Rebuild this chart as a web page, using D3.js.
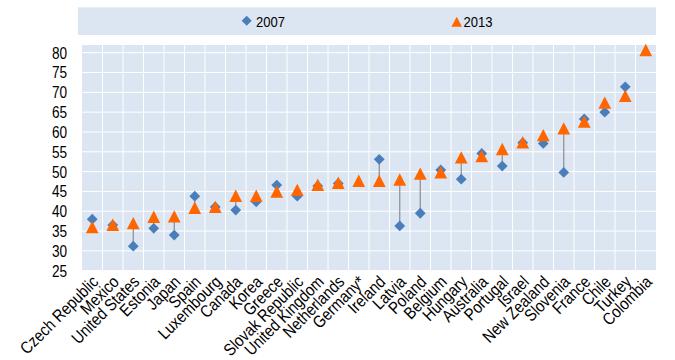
<!DOCTYPE html>
<html>
<head>
<meta charset="utf-8">
<script src="https://cdn.jsdelivr.net/npm/d3@7"></script>
<style>
  html, body { margin: 0; padding: 0; background: #ffffff; }
  svg { display: block; }
  text { font-family: "Liberation Sans", Arial, sans-serif; fill: #000; }
</style>
</head>
<body>
<svg id="chart" width="675" height="360"></svg>
<script>
const categories = ["Czech Republic", "Mexico", "United States", "Estonia", "Japan", "Spain", "Luxembourg", "Canada", "Korea", "Greece", "Slovak Republic", "United Kingdom", "Netherlands", "Germany*", "Ireland", "Latvia", "Poland", "Belgium", "Hungary", "Australia", "Portugal", "Israel", "New Zealand", "Slovenia", "France", "Chile", "Turkey", "Colombia"];
const values2007 = [38.0, 36.5, 31.2, 35.7, 34.0, 43.8, 41.1, 40.3, 42.4, 46.6, 43.8, 46.4, 47.0, null, 53.1, 36.3, 39.5, 50.4, 48.1, 54.6, 51.4, 57.3, 57.1, 49.8, 63.3, 65.0, 71.4, null];
const values2013 = [36.0, 36.6, 37.0, 38.6, 38.7, 40.9, 41.1, 43.9, 43.9, 45.0, 45.4, 46.7, 47.2, 47.7, 47.7, 48.0, 49.5, 49.8, 53.6, 53.9, 55.7, 57.4, 59.2, 60.9, 62.6, 67.4, 69.1, 80.7];
const yTicks = [25, 30, 35, 40, 45, 50, 55, 60, 65, 70, 75, 80];
const seriesNames = ["2007", "2013"];

const svg = d3.select("#chart");
const plot = { left: 82, right: 656, top: 45, bottom: 270.7 };
const colors = { bg: "#dce6f2", diamond: "#4a7ebb", triangle: "#ff6600", link: "#8c8c8c" };

const x = d3.scaleBand().domain(categories).range([plot.left, plot.right]).padding(0);
const y = d3.scaleLinear().domain([25, 80]).range([plot.bottom, 52.7]);

// legend box
svg.append("rect").attr("x", 78).attr("y", 7.3).attr("width", 656 - 78).attr("height", 35 - 7.3).attr("fill", colors.bg);

// plot background
svg.append("rect").attr("x", plot.left).attr("y", plot.top).attr("width", plot.right - plot.left).attr("height", plot.bottom - plot.top).attr("fill", colors.bg);

// horizontal gridlines
svg.append("g").selectAll("line").data(yTicks).join("line")
  .attr("x1", plot.left).attr("x2", plot.right)
  .attr("y1", d => y(d)).attr("y2", d => y(d))
  .attr("stroke", "#ffffff").attr("stroke-width", 1);

// vertical gridlines at category boundaries
svg.append("g").selectAll("line").data(categories.slice(1)).join("line")
  .attr("x1", d => x(d)).attr("x2", d => x(d))
  .attr("y1", plot.top).attr("y2", plot.bottom)
  .attr("stroke", "#ffffff").attr("stroke-width", 1);

// y axis labels
const yAxis = d3.axisLeft(y).tickValues(yTicks).tickSize(0).tickPadding(0);
const yG = svg.append("g").attr("transform", `translate(67,0)`).call(yAxis);
yG.select(".domain").remove();
yG.selectAll("text").attr("font-size", "17px").attr("font-family", null).attr("fill", "#000")
  .attr("x", 0).attr("transform", "scale(0.8,1)");

// x axis labels
const xAxis = d3.axisBottom(x).tickSize(0).tickPadding(0);
const xG = svg.append("g").attr("transform", `translate(0,${plot.bottom})`).call(xAxis);
xG.select(".domain").remove();
xG.selectAll("text")
  .attr("font-size", "17px").attr("font-family", null).attr("fill", "#000")
  .attr("text-anchor", "end")
  .attr("dy", "0.35em").attr("y", 0)
  .attr("transform", "translate(3,8) rotate(-45) scale(0.86,1)");

const cx = d => x(d) + x.bandwidth() / 2;

// connecting lines
const pairs = categories.map((c, i) => ({ c, a: values2007[i], b: values2013[i] })).filter(d => d.a != null && d.b != null);
svg.append("g").selectAll("line").data(pairs).join("line")
  .attr("x1", d => cx(d.c)).attr("x2", d => cx(d.c))
  .attr("y1", d => y(d.a)).attr("y2", d => y(d.b))
  .attr("stroke", colors.link).attr("stroke-width", 1.2);

const diamondPath = "M0,-5.4L5.4,0L0,5.4L-5.4,0Z";
const trianglePath = "M0,-6.2L6.4,6.2L-6.4,6.2Z";

// 2007 diamonds
svg.append("g").selectAll("path")
  .data(categories.map((c, i) => ({ c, v: values2007[i] })).filter(d => d.v != null))
  .join("path")
  .attr("d", diamondPath)
  .attr("transform", d => `translate(${cx(d.c)},${y(d.v)})`)
  .attr("fill", colors.diamond);

// 2013 triangles
svg.append("g").selectAll("path")
  .data(categories.map((c, i) => ({ c, v: values2013[i] })).filter(d => d.v != null))
  .join("path")
  .attr("d", trianglePath)
  .attr("transform", d => `translate(${cx(d.c)},${y(d.v)})`)
  .attr("fill", colors.triangle);

// legend
const leg = svg.append("g");
leg.append("path").attr("d", "M0,-5L5,0L0,5L-5,0Z").attr("transform", "translate(246.7,20.7)").attr("fill", colors.diamond);
leg.append("text").attr("transform", "translate(256,26.8) scale(0.9,1)").attr("font-size", "14.5px").text(seriesNames[0]);
leg.append("path").attr("d", "M0,-5L5.3,5L-5.3,5Z").attr("transform", "translate(456.7,21.7)").attr("fill", colors.triangle);
leg.append("text").attr("transform", "translate(463.5,26.8) scale(0.9,1)").attr("font-size", "14.5px").text(seriesNames[1]);
</script>
</body>
</html>
